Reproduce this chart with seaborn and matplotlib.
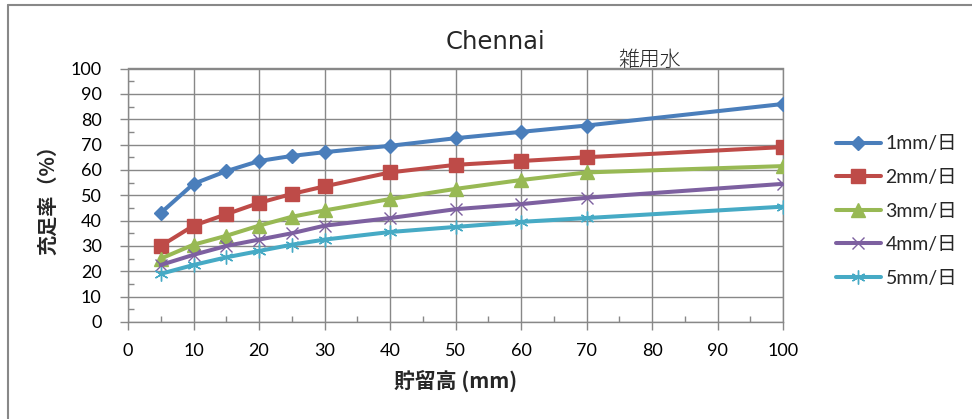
import matplotlib
matplotlib.use("Agg")
import matplotlib.pyplot as plt
from matplotlib.lines import Line2D
from matplotlib.ticker import MultipleLocator
import seaborn as sns
import pandas as pd

# Storage depth (mm) and sufficiency rate (%) for each daily-use rate
storage_mm = [5, 10, 15, 20, 25, 30, 40, 50, 60, 70, 100]
rate_1mm = [43, 54.5, 59.5, 63.5, 65.5, 67, 69.5, 72.5, 75, 77.5, 86]
rate_2mm = [30, 38, 42.5, 47, 50.5, 53.5, 59, 62, 63.5, 65, 69]
rate_3mm = [25, 30.5, 34, 38, 41.5, 44, 48.5, 52.5, 56, 59, 61.5]
rate_4mm = [22.5, 26.5, 30, 32.5, 35, 38, 41, 44.5, 46.5, 49, 54.5]
rate_5mm = [19, 22.5, 25.5, 28, 30.5, 32.5, 35.5, 37.5, 39.5, 41, 45.5]
series_labels = ["1mm/日", "2mm/日", "3mm/日", "4mm/日", "5mm/日"]
x_ticks = [0, 10, 20, 30, 40, 50, 60, 70, 80, 90, 100]
y_ticks = [0, 10, 20, 30, 40, 50, 60, 70, 80, 90, 100]

title_text = "Chennai"
subtitle_text = "雑用水"
x_label = "貯留高 (mm)"
y_label = "充足率（%）"

colors = ["#4A7EBB", "#BE4B48", "#98B954", "#7D60A0", "#46AAC5"]
markers = ["D", "s", "^", "x", (6, 2, 0)]
marker_sizes = [7.5, 9.5, 9.5, 8.5, 10]
grid_gray = "#888888"

sns.set_theme(style="white")
plt.rcParams["font.family"] = ["Lato", "Noto Sans CJK JP", "DejaVu Sans"]

frames = []
for label, values in zip(series_labels,
                         [rate_1mm, rate_2mm, rate_3mm, rate_4mm, rate_5mm]):
    frames.append(pd.DataFrame({"storage": storage_mm, "rate": values,
                                "series": label}))
data = pd.concat(frames, ignore_index=True)

fig = plt.figure(figsize=(9.72, 4.19), dpi=100)
ax = fig.add_axes([128 / 972, 1 - 322 / 419, 655 / 972, 253.5 / 419])

for label, color, marker, ms in zip(series_labels, colors, markers, marker_sizes):
    sub = data[data["series"] == label]
    sns.lineplot(data=sub, x="storage", y="rate", ax=ax, color=color,
                 linewidth=2.9, marker=marker, markersize=ms,
                 markeredgecolor=color, markerfacecolor=color,
                 markeredgewidth=1.0, label=label, zorder=3)

ax.set_xlim(0, 100)
ax.set_ylim(0, 100)
ax.set_xticks(x_ticks)
ax.set_yticks(y_ticks)
ax.xaxis.set_minor_locator(MultipleLocator(5))
ax.yaxis.set_minor_locator(MultipleLocator(5))
ax.grid(True, which="major", color=grid_gray, linewidth=1.0)
for spine in ax.spines.values():
    spine.set_color(grid_gray)
    spine.set_linewidth(1.0)

ax.tick_params(axis="both", which="major", direction="out", length=6,
               width=1.0, color=grid_gray, labelsize=13, labelcolor="black")
ax.tick_params(axis="y", which="major", pad=13)
ax.tick_params(axis="x", which="major", pad=9)
ax.tick_params(axis="both", which="minor", direction="in", length=4,
               width=1.0, color=grid_gray)
ax.tick_params(bottom=True, left=True, which="both")

ax.set_xlabel(x_label, fontsize=15, fontweight="bold", labelpad=8,
              family=["Noto Sans CJK JP", "DejaVu Sans"])
ax.set_ylabel(y_label, fontsize=14.5, fontweight="bold", labelpad=9,
              family=["Noto Sans CJK JP", "DejaVu Sans"])

fig.text(495 / 972, 1 - 42 / 419, title_text, ha="center", va="center",
         fontsize=17.5, family=["DejaVu Sans"])
fig.text(650 / 972, 1 - 60 / 419, subtitle_text, ha="center", va="center",
         fontsize=15, family=["Noto Sans CJK JP"], fontweight="light")

leg = ax.legend(loc="center left", bbox_to_anchor=(836 / 972, 1 - 211 / 419),
                bbox_transform=fig.transFigure, frameon=False, fontsize=14,
                handlelength=2.3, handletextpad=0.25, labelspacing=0.85,
                borderpad=0, borderaxespad=0)

# outer chart border (left and top edges)
fig.add_artist(Line2D([8 / 972, 8 / 972], [0, 1 - 5 / 419],
                      transform=fig.transFigure, color="#888888", linewidth=1.5))
fig.add_artist(Line2D([8 / 972, 1], [1 - 5 / 419, 1 - 5 / 419],
                      transform=fig.transFigure, color="#888888", linewidth=1.5))

fig.savefig("out.png", dpi=100, facecolor="white")
